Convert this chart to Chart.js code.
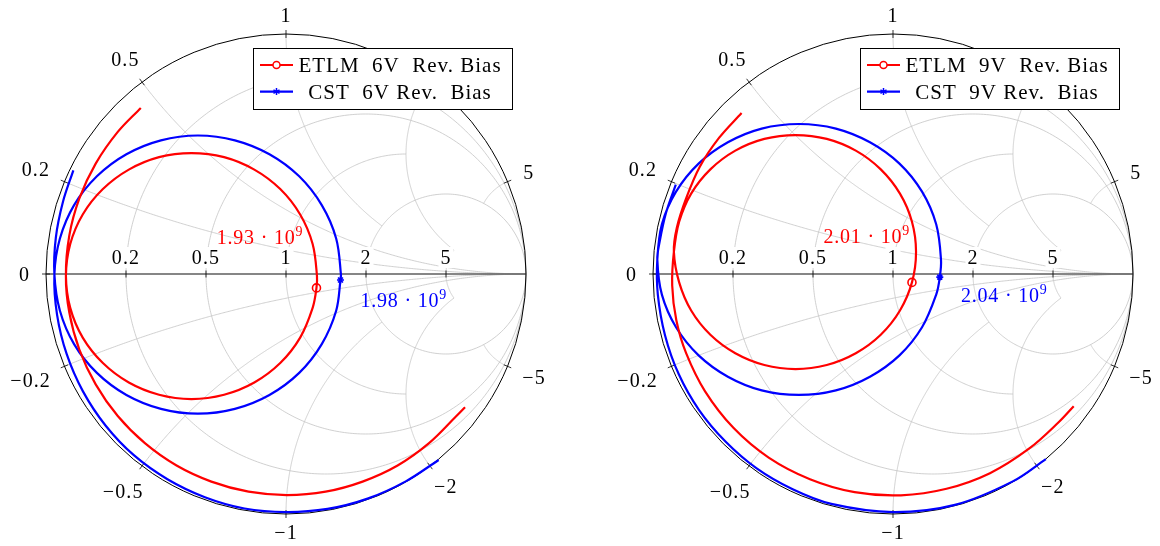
<!DOCTYPE html>
<html>
<head>
<meta charset="utf-8">
<script src="https://cdn.jsdelivr.net/npm/chart.js@4.4.0/dist/chart.umd.min.js"></script>
<style>
  body { margin: 0; background: #fff; }
  #wrap { position: relative; width: 1160px; height: 546px; }
  canvas { position: absolute; top: 0; }
</style>
</head>
<body>
<div id="wrap">
  <canvas id="chart6" width="580" height="546" style="left:0"></canvas>
  <canvas id="chart9" width="580" height="546" style="left:580px"></canvas>
</div>
<script>
// reflection coefficient loci, [Re(G), Im(G)]
const etlm6V = [
  [-0.605,0.692],[-0.701,0.592],[-0.793,0.460],[-0.861,0.315],[-0.903,0.160],[-0.917,-0.008],
  [-0.899,-0.141],[-0.847,-0.265],[-0.763,-0.371],[-0.655,-0.452],[-0.529,-0.503],[-0.394,-0.521],
  [-0.258,-0.503],[-0.132,-0.452],[-0.024,-0.371],[0.059,-0.265],[0.111,-0.141],[0.127,-0.058],
  [0.129,-0.008],[0.111,0.125],[0.059,0.248],[-0.024,0.354],[-0.132,0.435],[-0.258,0.487],
  [-0.394,0.504],[-0.529,0.487],[-0.655,0.435],[-0.763,0.354],[-0.847,0.248],[-0.899,0.125],
  [-0.917,-0.008],[-0.903,-0.160],[-0.861,-0.315],[-0.793,-0.460],[-0.701,-0.592],[-0.588,-0.705],
  [-0.456,-0.798],[-0.311,-0.865],[-0.156,-0.907],[0.004,-0.921],[0.165,-0.907],[0.319,-0.865],
  [0.465,-0.798],[0.596,-0.705],[0.710,-0.592],[0.746,-0.555]
];
const cst6V = [
  [-0.886,0.432],[-0.929,0.302],[-0.959,0.152],[-0.965,-0.001],
  [-0.942,-0.153],[-0.883,-0.292],[-0.788,-0.412],[-0.665,-0.504],[-0.521,-0.562],[-0.367,-0.582],
  [-0.213,-0.562],[-0.069,-0.504],[0.055,-0.412],[0.149,-0.292],[0.209,-0.153],[0.227,-0.025],
  [0.229,-0.003],[0.209,0.148],[0.149,0.287],[0.055,0.407],[-0.069,0.499],[-0.213,0.557],
  [-0.367,0.577],[-0.521,0.557],[-0.665,0.499],[-0.788,0.407],[-0.883,0.287],[-0.942,0.148],
  [-0.965,-0.001],[-0.954,-0.169],[-0.914,-0.333],[-0.846,-0.489],[-0.752,-0.631],[-0.634,-0.755],
  [-0.494,-0.855],[-0.338,-0.930],[-0.173,-0.977],[0.000,-0.992],[0.173,-0.979],[0.340,-0.936],
  [0.499,-0.864],[0.636,-0.775]
];
const etlm9V = [
  [-0.631,0.671],[-0.725,0.567],[-0.805,0.447],[-0.862,0.315],[-0.901,0.192],[-0.913,0.092],
  [-0.891,-0.035],[-0.841,-0.152],[-0.761,-0.253],[-0.657,-0.330],[-0.536,-0.379],[-0.406,-0.396],
  [-0.276,-0.379],[-0.155,-0.330],[-0.051,-0.253],[0.029,-0.152],[0.079,-0.035],[0.096,0.092],
  [0.079,0.218],[0.029,0.335],[-0.051,0.436],[-0.155,0.514],[-0.276,0.563],[-0.406,0.579],
  [-0.536,0.563],[-0.657,0.514],[-0.761,0.436],[-0.841,0.335],[-0.891,0.218],[-0.913,0.092],
  [-0.920,-0.048],[-0.903,-0.192],[-0.862,-0.330],[-0.783,-0.489],[-0.665,-0.641],[-0.518,-0.765],
  [-0.346,-0.855],[-0.160,-0.909],[0.033,-0.922],[0.223,-0.895],[0.404,-0.830],[0.568,-0.727],
  [0.690,-0.618],[0.753,-0.551]
];
const cst9V = [
  [-0.905,0.372],[-0.946,0.254],[-0.972,0.136],[-0.982,0.060],
  [-0.963,-0.086],[-0.904,-0.222],[-0.810,-0.339],[-0.688,-0.428],[-0.547,-0.485],[-0.392,-0.504],
  [-0.238,-0.485],[-0.096,-0.428],[0.027,-0.339],[0.121,-0.222],[0.180,-0.086],[0.195,-0.013],
  [0.200,0.060],[0.180,0.207],[0.121,0.343],[0.027,0.460],[-0.096,0.549],[-0.238,0.606],
  [-0.392,0.625],[-0.547,0.606],[-0.688,0.549],[-0.810,0.460],[-0.904,0.343],[-0.963,0.207],
  [-0.982,0.060],[-0.980,-0.085],[-0.950,-0.255],[-0.893,-0.417],[-0.808,-0.567],[-0.698,-0.698],
  [-0.568,-0.810],[-0.418,-0.897],[-0.257,-0.958],[0.000,-0.992],[0.258,-0.962],[0.499,-0.864],
  [0.637,-0.771]
];
// index of the marked frequency point in each series
const etlm6VMarker = 17;
const cst6VMarker = 15;
const etlm9VMarker = 16;
const cst9VMarker = 15;

const labels6V = ["ETLM  6V  Rev. Bias", "CST  6V Rev.  Bias"];
const labels9V = ["ETLM  9V  Rev. Bias", "CST  9V Rev.  Bias"];
const markerFreq6V = ["1.93", "1.98"]; // x 10^9
const markerFreq9V = ["2.01", "2.04"];

// smith chart ticks
const resistanceTicks = [0.2, 0.5, 1, 2, 5];
const reactanceTicks = [-5, -2, -1, -0.5, -0.2, 0, 0.2, 0.5, 1, 2, 5];
// where grid lines stop: r-circles stop at |x| = ..., x-arcs stop at r = ...
const resistanceGridStop = [Infinity, Infinity, 2, Infinity, 2];
const reactanceGridStop = [Infinity, Infinity, 2, 5, 2];

const FONT = "'Liberation Serif', 'Times New Roman', serif";

function gamma(r, x) {
  const den = (r + 1) * (r + 1) + x * x;
  return [(r * r - 1 + x * x) / den, (2 * x) / den];
}

function fmt(v) {
  return v < 0 ? "\u2212" + Math.abs(v) : String(v);
}

function setText(ctx, size, spacing) {
  ctx.font = size + "px " + FONT;
  if ("letterSpacing" in ctx) ctx.letterSpacing = spacing + "px";
}

const smithPlugin = {
  id: "smith",
  beforeDatasetsDraw(chart) {
    const ctx = chart.ctx;
    const xs = chart.scales.x, ys = chart.scales.y;
    const px = u => xs.getPixelForValue(u);
    const py = v => ys.getPixelForValue(v);
    const cx = px(0), cy = py(0), R = px(1) - px(0);

    const stroke = pts => {
      ctx.beginPath();
      pts.forEach(([u, v], i) => i ? ctx.lineTo(px(u), py(v)) : ctx.moveTo(px(u), py(v)));
      ctx.stroke();
    };

    ctx.save();
    // grid
    ctx.strokeStyle = "#c4c4c4";
    ctx.lineWidth = 0.8;
    resistanceTicks.forEach((r, i) => {
      const lim = Math.atan(resistanceGridStop[i]);
      const pts = [];
      for (let k = 0; k <= 400; k++) pts.push(gamma(r, Math.tan(-lim + 2 * lim * k / 400)));
      stroke(pts);
    });
    reactanceTicks.forEach(x => {
      if (x === 0) return;
      const lim = Math.atan(reactanceGridStop[resistanceTicks.indexOf(Math.abs(x))]);
      const pts = [];
      for (let k = 0; k <= 300; k++) pts.push(gamma(Math.tan(lim * k / 300), x));
      stroke(pts);
    });

    // real axis
    ctx.strokeStyle = "#5e5e5e";
    ctx.lineWidth = 1.6;
    ctx.beginPath();
    ctx.moveTo(px(-1), cy);
    ctx.lineTo(px(1), cy);
    ctx.stroke();

    // outer circle
    ctx.strokeStyle = "#000";
    ctx.lineWidth = 1;
    ctx.beginPath();
    ctx.arc(cx, cy, R, 0, Math.PI * 2);
    ctx.stroke();

    // ticks
    ctx.lineWidth = 0.8;
    resistanceTicks.forEach(r => {
      const x = px((r - 1) / (r + 1));
      ctx.beginPath();
      ctx.moveTo(x, cy - 3.5);
      ctx.lineTo(x, cy + 3.5);
      ctx.stroke();
    });
    reactanceTicks.forEach(x => {
      const th = Math.PI - 2 * Math.atan(x);
      const dx = Math.cos(th), dy = -Math.sin(th);
      ctx.beginPath();
      ctx.moveTo(cx + (R - 4) * dx, cy + (R - 4) * dy);
      ctx.lineTo(cx + (R + 4) * dx, cy + (R + 4) * dy);
      ctx.stroke();
    });

    // tick labels
    setText(ctx, 20, 1.1);
    ctx.textAlign = "center";
    ctx.textBaseline = "alphabetic";
    const capH = 13;
    resistanceTicks.forEach(r => {
      const x = px((r - 1) / (r + 1));
      const t = fmt(r);
      const w = ctx.measureText(t).width;
      ctx.fillStyle = "#fff";
      ctx.fillRect(x - w / 2 - 2, cy - 27, w + 4, 21);
      ctx.fillStyle = "#000";
      ctx.fillText(t, x, cy - 10.5);
    });
    reactanceTicks.forEach(x => {
      const th = Math.PI - 2 * Math.atan(x);
      const dx = Math.cos(th), dy = -Math.sin(th);
      const t = fmt(x);
      const hw = ctx.measureText(t).width / 2 + 3;
      const d = 13 + hw * Math.abs(dx) + 5.5 * Math.abs(dy);
      const lx = cx + (R + d) * dx, ly = cy + (R + d) * dy;
      ctx.fillStyle = "#000";
      ctx.fillText(t, lx, ly + capH / 2);
    });
    ctx.restore();
  },

  afterDatasetsDraw(chart, args, opts) {
    const ctx = chart.ctx;
    const xs = chart.scales.x, ys = chart.scales.y;
    const area = chart.chartArea;
    ctx.save();

    // frequency annotations
    (opts.notes || []).forEach((n, i) => {
      const ds = chart.data.datasets[i];
      const x = xs.getPixelForValue(n.u), y = ys.getPixelForValue(n.v);
      ctx.fillStyle = ds.borderColor;
      ctx.textAlign = "left";
      setText(ctx, 20, 0.8);
      const main = n.text + " \u00b7 10";
      ctx.fillText(main, x, y);
      const w = ctx.measureText(main).width;
      setText(ctx, 14, 0.5);
      ctx.fillText("9", x + w, y - 8);
    });

    // legend
    const bw = 259, bh = 61;
    const bx = area.right - 14 - bw, by = area.top + 14;
    ctx.fillStyle = "#fff";
    ctx.fillRect(bx, by, bw, bh);
    ctx.strokeStyle = "#000";
    ctx.lineWidth = 1;
    ctx.strokeRect(bx + 0.5, by + 0.5, bw, bh);
    chart.data.datasets.forEach((ds, i) => {
      const ry = by + 17 + i * 26.6;
      ctx.strokeStyle = ds.borderColor;
      ctx.lineWidth = 2.2;
      ctx.beginPath();
      ctx.moveTo(bx + 7, ry);
      ctx.lineTo(bx + 40, ry);
      ctx.stroke();
      const mx = bx + 23.5;
      ctx.lineWidth = 1.5;
      ctx.beginPath();
      if (ds.pointStyle === "circle") {
        ctx.fillStyle = "#fff";
        ctx.arc(mx, ry, 3.5, 0, Math.PI * 2);
        ctx.fill();
      } else {
        for (let a = 0; a < 3; a++) {
          const t = Math.PI / 2 + a * Math.PI / 3;
          ctx.moveTo(mx - 3.5 * Math.cos(t), ry - 3.5 * Math.sin(t));
          ctx.lineTo(mx + 3.5 * Math.cos(t), ry + 3.5 * Math.sin(t));
        }
      }
      ctx.stroke();
      setText(ctx, 21, 1);
      ctx.fillStyle = "#000";
      ctx.textAlign = "center";
      ctx.fillText(ds.label, bx + 147, ry + 7);
    });
    ctx.restore();
  }
};

function curve(label, pts, color, markerIndex, style) {
  return {
    label,
    data: pts.map(([u, v]) => ({ x: u, y: v })),
    showLine: true,
    borderColor: color,
    backgroundColor: color,
    borderWidth: 2.2,
    tension: 0.35,
    fill: false,
    pointStyle: style,
    pointRadius: c => (c.dataIndex === markerIndex ? (style === "circle" ? 4 : 3.5) : 0),
    pointHoverRadius: 0,
    pointBorderColor: color,
    pointBackgroundColor: "rgba(0,0,0,0)",
    pointBorderWidth: 1.6
  };
}

function makeChart(id, datasets, notes, pad) {
  return new Chart(document.getElementById(id), {
    type: "scatter",
    data: { datasets },
    options: {
      responsive: false,
      animation: false,
      events: [],
      layout: { padding: pad },
      scales: {
        x: { type: "linear", min: -1, max: 1, display: false },
        y: { type: "linear", min: -1, max: 1, display: false }
      },
      plugins: {
        legend: { display: false },
        tooltip: { enabled: false },
        smith: { notes }
      }
    },
    plugins: [smithPlugin]
  });
}

makeChart("chart6", [
  curve(labels6V[0], etlm6V, "#ff0000", etlm6VMarker, "circle"),
  curve(labels6V[1], cst6V, "#0000ff", cst6VMarker, "star")
], [
  { text: markerFreq6V[0], u: -0.289, v: 0.123 },
  { text: markerFreq6V[1], u: 0.310, v: -0.1375 }
], { left: 46, right: 54, top: 34, bottom: 32 });

makeChart("chart9", [
  curve(labels9V[0], etlm9V, "#ff0000", etlm9VMarker, "circle"),
  curve(labels9V[1], cst9V, "#0000ff", cst9VMarker, "star")
], [
  { text: markerFreq9V[0], u: -0.290, v: 0.130 },
  { text: markerFreq9V[1], u: 0.283, v: -0.117 }
], { left: 73, right: 27, top: 34, bottom: 32 });
</script>
</body>
</html>
